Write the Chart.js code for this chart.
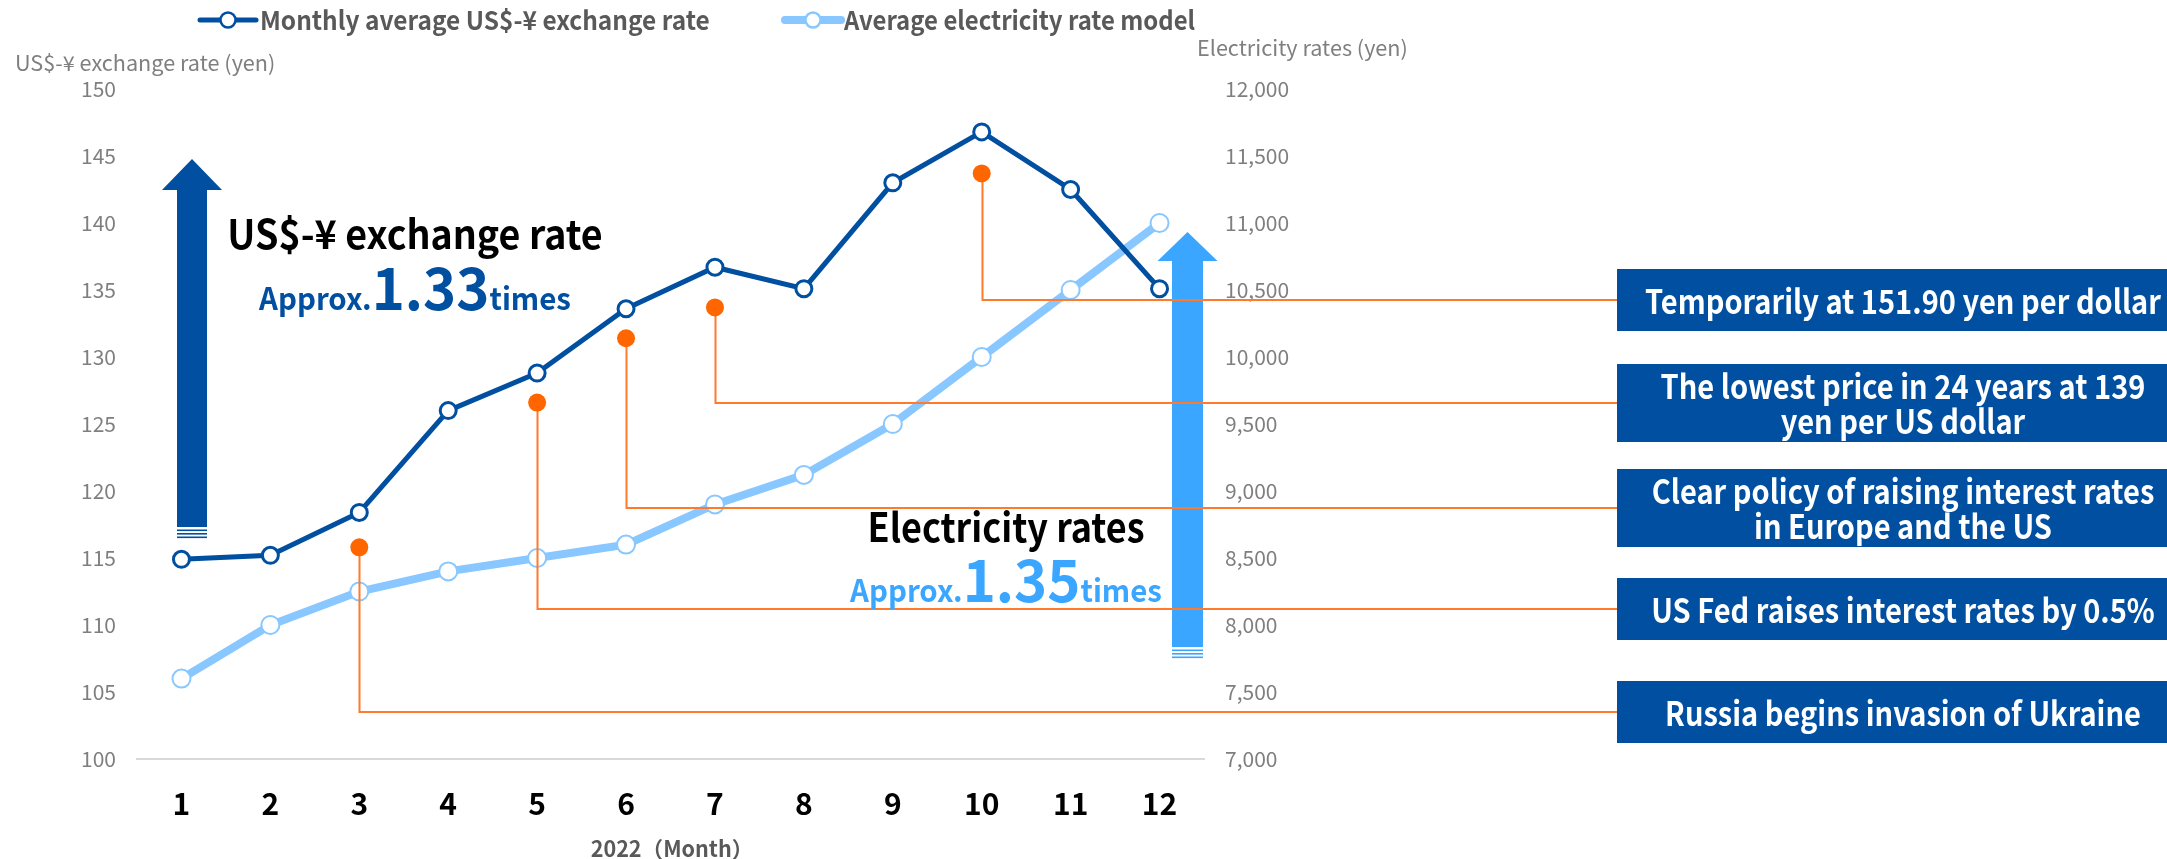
<!DOCTYPE html>
<html>
<head>
<meta charset="utf-8">
<script src="https://cdn.jsdelivr.net/npm/chart.js@4.4.1/dist/chart.umd.min.js"></script>
<style>
  html, body { margin: 0; padding: 0; background: #fff; }
</style>
</head>
<body>
<canvas id="chart" width="2167" height="859"></canvas>
<script>
// --- data ---
const months = ["1", "2", "3", "4", "5", "6", "7", "8", "9", "10", "11", "12"];
const usdJpy = [114.9, 115.2, 118.4, 126.0, 128.8, 133.6, 136.7, 135.1, 143.0, 146.8, 142.5, 135.1];
const electricity = [7600, 8000, 8250, 8400, 8500, 8600, 8900, 9120, 9500, 10000, 10500, 11000];

// events: orange dot (left axis value) and the level its leader line runs at
const eventMonths = ["3", "5", "6", "7", "10"];
const eventDotRate = [115.8, 126.6, 131.4, 133.7, 143.7];
const eventLineRate = [103.5, 111.2, 118.7, 126.6, 134.25];
const eventTexts = [
  ["Russia begins invasion of Ukraine"],
  ["US Fed raises interest rates by 0.5%"],
  ["Clear policy of raising interest rates", "in Europe and the US"],
  ["The lowest price in 24 years at 139", "yen per US dollar"],
  ["Temporarily at 151.90 yen per dollar"],
];

const rateMin = 100, rateMax = 150, rateStep = 5;
const elecMin = 7000, elecMax = 12000, elecStep = 500;

const FONT = '"Noto Sans CJK JP", "Noto Sans", sans-serif';
const DARK = "#004FA0";
const LIGHT = "#88C7FF";
const ARROW_LIGHT = "#3AA6FF";
const ORANGE = "#FF6600";

// draw text squeezed horizontally (the original uses a condensed face)
function squeezed(ctx, text, x, y, font, color, sx, align) {
  ctx.save();
  ctx.font = font;
  ctx.fillStyle = color;
  ctx.textBaseline = "middle";
  const w = ctx.measureText(text).width * sx;
  let left = x;
  if (align === "center") left = x - w / 2;
  if (align === "right") left = x - w;
  ctx.translate(left, y);
  ctx.scale(sx, 1);
  ctx.textAlign = "left";
  ctx.fillText(text, 0, 0);
  ctx.restore();
  return w;
}

function textWidth(ctx, text, font, sx) {
  ctx.save();
  ctx.font = font;
  const w = ctx.measureText(text).width * sx;
  ctx.restore();
  return w;
}

function drawArrow(ctx, a, color) {
  ctx.save();
  ctx.fillStyle = color;
  ctx.beginPath();
  ctx.moveTo(a.cx, a.tip);
  ctx.lineTo(a.cx + a.head, a.base);
  ctx.lineTo(a.cx + a.shaft, a.base);
  ctx.lineTo(a.cx + a.shaft, a.bottom);
  ctx.lineTo(a.cx - a.shaft, a.bottom);
  ctx.lineTo(a.cx - a.shaft, a.base);
  ctx.lineTo(a.cx - a.head, a.base);
  ctx.closePath();
  ctx.fill();
  [2.5, 6, 9.5].forEach((d) => {
    ctx.fillRect(a.cx - a.shaft, a.bottom + d, a.shaft * 2, 1.6);
  });
  ctx.restore();
}

// "Approx." + big number + "times", centred on cx
function drawFactor(ctx, cx, y, num, color) {
  const small = "bold 31px " + FONT;
  const big = "bold 58px " + FONT;
  const ss = 0.95, sb = 0.97;
  const w1 = textWidth(ctx, "Approx.", small, ss);
  const w2 = textWidth(ctx, num, big, sb);
  const w3 = textWidth(ctx, "times", small, ss);
  let x = cx - (w1 + w2 + w3) / 2;
  ctx.save();
  ctx.textBaseline = "alphabetic";
  ctx.fillStyle = color;
  [["Approx.", small, ss, w1], [num, big, sb, w2], ["times", small, ss, w3]].forEach((p) => {
    ctx.save();
    ctx.font = p[1];
    ctx.translate(x, y);
    ctx.scale(p[2], 1);
    ctx.fillText(p[0], 0, 0);
    ctx.restore();
    x += p[3];
  });
  ctx.restore();
}

function legendItem(ctx, x0, x1, y, color, lw, textX, text, sx) {
  ctx.save();
  ctx.strokeStyle = color;
  ctx.lineWidth = lw;
  ctx.lineCap = "round";
  ctx.beginPath();
  ctx.moveTo(x0, y);
  ctx.lineTo(x1, y);
  ctx.stroke();
  ctx.beginPath();
  ctx.arc((x0 + x1) / 2, y, 7.5, 0, Math.PI * 2);
  ctx.fillStyle = "#fff";
  ctx.fill();
  ctx.lineWidth = 2.5;
  ctx.stroke();
  ctx.restore();
  squeezed(ctx, text, textX, y, "bold 26px " + FONT, "#595959", sx, "left");
}

const overlay = {
  id: "overlay",
  beforeDatasetsDraw(chart) {
    const ctx = chart.ctx;
    drawArrow(ctx, { cx: 192, tip: 159, base: 190, head: 30, shaft: 15, bottom: 527 }, DARK);
    drawArrow(ctx, { cx: 1187.5, tip: 232, base: 261, head: 30, shaft: 15.5, bottom: 647 }, ARROW_LIGHT);
  },
  afterDatasetDraw(chart, args) {
    // leader lines go above the electricity line, below the fx line and dots
    if (args.index !== 2) return;
    const ctx = chart.ctx;
    const xs = chart.scales.x;
    const ys = chart.scales.y;
    ctx.save();
    ctx.strokeStyle = "#FF7A2A";
    ctx.lineWidth = 2;
    eventMonths.forEach((m, i) => {
      const x = Math.round(xs.getPixelForValue(months.indexOf(m))) + 0.5;
      const yTop = ys.getPixelForValue(eventDotRate[i]);
      const yLine = Math.round(ys.getPixelForValue(eventLineRate[i]));
      ctx.beginPath();
      ctx.moveTo(x, yTop);
      ctx.lineTo(x, yLine);
      ctx.lineTo(1617, yLine);
      ctx.stroke();
    });
    ctx.restore();
  },
  afterDraw(chart) {
    const ctx = chart.ctx;
    const ys = chart.scales.y;

    // event boxes
    eventTexts.forEach((lines, i) => {
      const yc = Math.round(ys.getPixelForValue(eventLineRate[i]));
      const h = lines.length > 1 ? 78 : 62;
      ctx.fillStyle = DARK;
      ctx.fillRect(1617, yc - h / 2, 2167 - 1617, h);
      lines.forEach((t, k) => {
        const ty = yc + (k - (lines.length - 1) / 2) * 35 + 1;
        squeezed(ctx, t, 1903, ty, "bold 33px " + FONT, "#fff", 0.88, "center");
      });
    });

    // big annotations
    squeezed(ctx, "US$-¥ exchange rate", 415, 234, "bold 40px " + FONT, "#000", 0.94, "center");
    drawFactor(ctx, 415, 310, "1.33", DARK);
    squeezed(ctx, "Electricity rates", 1006, 527, "bold 40px " + FONT, "#000", 0.9, "center");
    drawFactor(ctx, 1006, 602, "1.35", ARROW_LIGHT);

    // legend
    legendItem(ctx, 200, 256, 20, DARK, 5, 260, "Monthly average US$-¥ exchange rate", 0.94);
    legendItem(ctx, 785, 841, 20, LIGHT, 8, 844, "Average electricity rate model", 0.92);

    // axis titles
    squeezed(ctx, "US$-¥ exchange rate (yen)", 15, 63, "21px " + FONT, "#7F7F7F", 1.03, "left");
    squeezed(ctx, "Electricity rates (yen)", 1197, 48, "21px " + FONT, "#7F7F7F", 1.03, "left");
    squeezed(ctx, "2022（Month）", 672, 849, "bold 22px " + FONT, "#595959", 0.98, "center");
  },
};

const tickFont = { family: FONT, size: 21 };

new Chart(document.getElementById("chart"), {
  type: "line",
  data: {
    labels: months,
    datasets: [
      {
        label: "events",
        data: eventMonths.map((m, i) => ({ x: m, y: eventDotRate[i] })),
        yAxisID: "y",
        showLine: false,
        pointRadius: 9,
        pointBorderWidth: 0,
        pointBackgroundColor: ORANGE,
        pointBorderColor: ORANGE,
      },
      {
        label: "Monthly average US$-¥ exchange rate",
        data: usdJpy,
        yAxisID: "y",
        borderColor: DARK,
        borderWidth: 5,
        pointRadius: 8,
        pointBorderWidth: 3,
        pointBackgroundColor: "#fff",
        pointBorderColor: DARK,
      },
      {
        label: "Average electricity rate model",
        data: electricity,
        yAxisID: "y1",
        borderColor: LIGHT,
        borderWidth: 8,
        pointRadius: 9,
        pointBorderWidth: 2,
        pointBackgroundColor: "#fff",
        pointBorderColor: LIGHT,
      },
    ],
  },
  options: {
    responsive: false,
    animation: false,
    devicePixelRatio: 1,
    layout: { padding: { top: 89, right: 813, bottom: 0, left: 0 } },
    plugins: { legend: { display: false }, tooltip: { enabled: false } },
    scales: {
      x: {
        offset: true,
        grid: { display: false, offset: true },
        border: { display: true, color: "#D9D9D9", width: 2 },
        ticks: { padding: 19, color: "#000", font: { family: FONT, size: 30, weight: "bold" } },
        afterFit: (s) => { s.height = 100; },
      },
      y: {
        position: "left",
        min: rateMin,
        max: rateMax,
        grid: { display: false, drawTicks: false },
        border: { display: false },
        ticks: { stepSize: rateStep, padding: 21, color: "#7F7F7F", font: tickFont },
        afterFit: (s) => { s.width = 137; },
      },
      y1: {
        position: "right",
        min: elecMin,
        max: elecMax,
        grid: { display: false, drawTicks: false },
        border: { display: false },
        ticks: {
          stepSize: elecStep,
          padding: 21,
          color: "#7F7F7F",
          font: tickFont,
          callback: (v) => v.toLocaleString("en-US"),
        },
        afterFit: (s) => { s.width = 150; },
      },
    },
  },
  plugins: [overlay],
});
</script>
</body>
</html>
